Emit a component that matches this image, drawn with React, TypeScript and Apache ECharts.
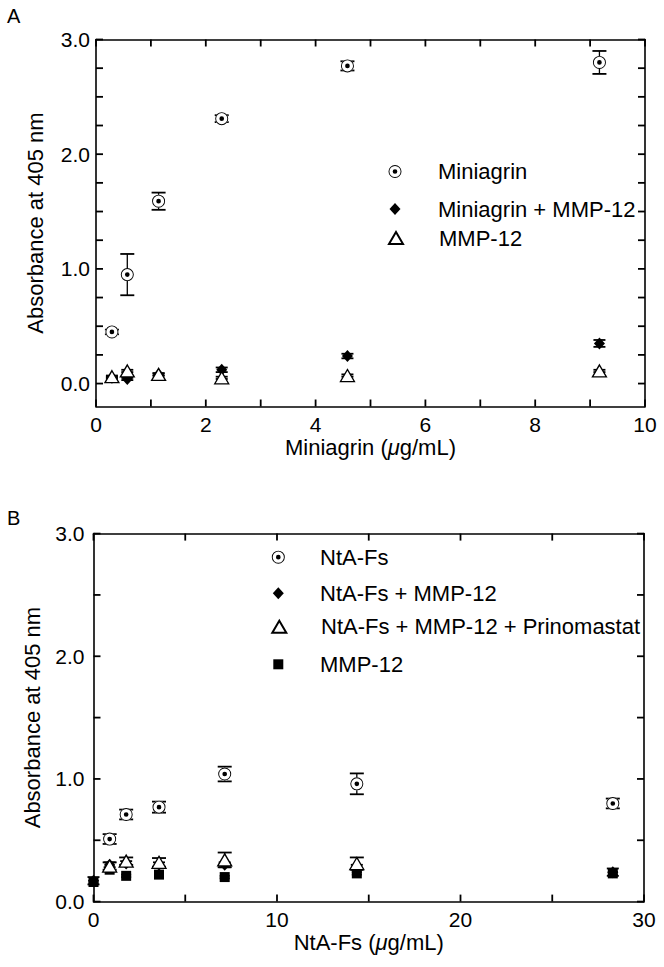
import React, { useEffect, useRef } from "react";
import * as echarts from "echarts";

// ---------- Panel A data ----------
const concA = [0.29, 0.57, 1.14, 2.29, 4.58, 9.17];
const miniagrin = [0.45, 0.95, 1.59, 2.31, 2.77, 2.8];
const miniagrinErr = [0.02, 0.18, 0.075, 0.03, 0.04, 0.1];
const miniagrinMmp = [0.05, 0.04, 0.08, 0.12, 0.24, 0.35];
const miniagrinMmpErr = [0.01, 0.01, 0.01, 0.02, 0.02, 0.03];
const mmpA = [0.06, 0.11, 0.08, 0.05, 0.07, 0.11];
const mmpAErr = [0.01, 0.01, 0.01, 0.01, 0.01, 0.01];

const xRangeA = [0, 10];
const yRangeA = [-0.2, 3];
const xTicksA = [0, 1, 2, 3, 4, 5, 6, 7, 8, 9, 10];
const xLabelsA = [0, 2, 4, 6, 8, 10];
const yTicksA = [0, 0.25, 0.5, 0.75, 1, 1.25, 1.5, 1.75, 2, 2.25, 2.5, 2.75, 3];
const yLabelsA = [0, 1, 2, 3];

// ---------- Panel B data ----------
const concB = [0, 0.88, 1.78, 3.57, 7.15, 14.35, 28.3];
const ntaFs = [null, 0.51, 0.71, 0.77, 1.04, 0.96, 0.8];
const ntaFsErr = [0, 0.04, 0.04, 0.045, 0.06, 0.085, 0.04];
const ntaFsMmp = [0.17, 0.3, 0.31, 0.3, 0.3, 0.28, 0.24];
const ntaFsMmpErr = [0.03, 0.02, 0.02, 0.02, 0.02, 0.02, 0.03];
const ntaFsPrino = [null, 0.29, 0.33, 0.32, 0.34, 0.31, null];
const ntaFsPrinoErr = [0, 0.03, 0.03, 0.035, 0.06, 0.05, 0];
const mmpB = [0.16, 0.26, 0.21, 0.22, 0.2, 0.23, 0.23];
const mmpBErr = [0.01, 0.01, 0.01, 0.01, 0.01, 0.01, 0.01];

const xRangeB = [0, 30];
const yRangeB = [0, 3];
const xTicksB = [0, 5, 10, 15, 20, 25, 30];
const xLabelsB = [0, 10, 20, 30];
const yTicksB = [0, 0.5, 1, 1.5, 2, 2.5, 3];
const yLabelsB = [0, 1, 2, 3];

const FONT = "Liberation Sans, Arial, Helvetica, sans-serif";
const RING =
  "path://M50,0A50,50,0,1,1,50,100A50,50,0,1,1,50,0ZM50,7A43,43,0,1,0,50,93A43,43,0,1,0,50,7ZM50,32A18,18,0,1,1,50,68A18,18,0,1,1,50,32Z";

function pairs(xs: number[], ys: (number | null)[]) {
  const out: number[][] = [];
  xs.forEach((x, i) => {
    if (ys[i] !== null && ys[i] !== undefined) out.push([x, ys[i] as number]);
  });
  return out;
}
function triples(xs: number[], ys: (number | null)[], es: number[]) {
  const out: number[][] = [];
  xs.forEach((x, i) => {
    if (ys[i] !== null && ys[i] !== undefined && es[i] > 0) out.push([x, ys[i] as number, es[i]]);
  });
  return out;
}

function errSeries(data: number[][], axis: number, cap: number) {
  return {
    type: "custom",
    xAxisIndex: axis,
    yAxisIndex: axis,
    silent: true,
    z: 2,
    data,
    renderItem: (_p: any, api: any) => {
      const x = api.value(0);
      const y = api.value(1);
      const e = api.value(2);
      const a = api.coord([x, y + e]);
      const b = api.coord([x, y - e]);
      const h = cap / 2;
      const st = { stroke: "#000", lineWidth: 1.3 };
      const cs = { stroke: "#000", lineWidth: 1.8 };
      return {
        type: "group",
        children: [
          { type: "line", shape: { x1: a[0], y1: a[1], x2: b[0], y2: b[1] }, style: st },
          { type: "line", shape: { x1: a[0] - h, y1: a[1], x2: a[0] + h, y2: a[1] }, style: cs },
          { type: "line", shape: { x1: b[0] - h, y1: b[1], x2: b[0] + h, y2: b[1] }, style: cs },
        ],
      };
    },
  };
}

// inward ticks on all four sides of a panel, drawn as one group through the axis scales
function tickSeries(axis: number, xTicks: number[], yTicks: number[], xr: number[], yr: number[]) {
  const L = 7;
  return {
    type: "custom",
    xAxisIndex: axis,
    yAxisIndex: axis,
    silent: true,
    clip: false,
    z: 10,
    data: [[(xr[0] + xr[1]) / 2, (yr[0] + yr[1]) / 2]],
    renderItem: (_params: any, api: any) => {
      const children: any[] = [];
      const st = { stroke: "#000", lineWidth: 1.8 };
      xTicks.forEach((v) => {
        const b = api.coord([v, yr[0]]);
        const t = api.coord([v, yr[1]]);
        children.push({ type: "line", shape: { x1: b[0], y1: b[1], x2: b[0], y2: b[1] - L }, style: st });
        children.push({ type: "line", shape: { x1: t[0], y1: t[1], x2: t[0], y2: t[1] + L }, style: st });
      });
      yTicks.forEach((v) => {
        const l = api.coord([xr[0], v]);
        const r = api.coord([xr[1], v]);
        children.push({ type: "line", shape: { x1: l[0], y1: l[1], x2: l[0] + L, y2: l[1] }, style: st });
        children.push({ type: "line", shape: { x1: r[0], y1: r[1], x2: r[0] - L, y2: r[1] }, style: st });
      });
      return { type: "group", children };
    },
  };
}

const LINE = { color: "#000", width: 1.6 };
const NAME_STYLE = {
  color: "#000",
  fontSize: 22,
  fontFamily: FONT,
  rich: { i: { fontStyle: "italic", fontSize: 22, fontFamily: FONT, color: "#000" } },
};
const LABEL = { color: "#000", fontSize: 21, fontFamily: FONT };

function axis(o: any) {
  const { grid, range, labels, name, pos, margin = 7, nameGap = 30, isY = false, fmt } = o;
  const showLabel = !!labels;
  return {
    type: "value",
    gridIndex: grid,
    position: pos,
    min: range[0],
    max: range[1],
    axisLine: { show: true, onZero: false, lineStyle: LINE },
    splitLine: { show: false },
    axisTick: { show: false },
    axisLabel: showLabel
      ? { show: true, customValues: labels, margin, ...LABEL, formatter: fmt }
      : { show: false },
    name: name || "",
    nameLocation: "middle",
    nameRotate: isY ? 90 : 0,
    nameGap,
    nameTextStyle: NAME_STYLE,
  };
}

function legendItem(name: string, cx: number, cy: number, w: number, h: number, textX: number) {
  return {
    show: true,
    orient: "horizontal",
    left: cx - w / 2,
    top: cy - h / 2,
    padding: 0,
    itemWidth: w,
    itemHeight: h,
    selectedMode: false,
    data: [name],
    textStyle: {
      color: "#000",
      fontSize: 22,
      fontFamily: FONT,
      padding: [0, 0, 0, textX - (cx + w / 2 + 5)],
    },
  };
}

function scatter(name: string, data: number[][], ax: number, symbol: string, size: any, z: number, style: any) {
  return {
    type: "scatter",
    name,
    xAxisIndex: ax,
    yAxisIndex: ax,
    data,
    symbol,
    symbolSize: size,
    z,
    itemStyle: { opacity: 1, ...style },
    emphasis: { disabled: true },
  };
}

export default function App() {
  const ref = useRef<HTMLDivElement>(null);
  useEffect(() => {
    if (!ref.current) return;
    const chart = echarts.init(ref.current, null as any, { renderer: "svg" });
    const black = { color: "#000" };
    const tri = { color: "#fff", borderColor: "#000", borderWidth: 1.3 };
    const fx = (v: number) => String(v);
    const fy = (v: number) => v.toFixed(1);
    const option: any = {
      animation: false,
      backgroundColor: "#fff",
      textStyle: { fontFamily: FONT },
      grid: [
        { left: 96, top: 39.5, width: 549, height: 367 },
        { left: 93.5, top: 533.6, width: 550.5, height: 368 },
      ],
      xAxis: [
        axis({ grid: 0, range: xRangeA, labels: xLabelsA, name: "Miniagrin ({i|μ}g/mL)", pos: "bottom", fmt: fx }),
        axis({ grid: 0, range: xRangeA, pos: "top" }),
        axis({ grid: 1, range: xRangeB, labels: xLabelsB, name: "NtA-Fs ({i|μ}g/mL)", pos: "bottom", fmt: fx }),
        axis({ grid: 1, range: xRangeB, pos: "top" }),
      ],
      yAxis: [
        axis({ grid: 0, range: yRangeA, labels: yLabelsA, name: "Absorbance at 405 nm", pos: "left", margin: 6, nameGap: 50, isY: true, fmt: fy }),
        axis({ grid: 0, range: yRangeA, pos: "right", isY: true }),
        axis({ grid: 1, range: yRangeB, labels: yLabelsB, name: "Absorbance at 405 nm", pos: "left", margin: 9, nameGap: 50, isY: true, fmt: fy }),
        axis({ grid: 1, range: yRangeB, pos: "right", isY: true }),
      ],
      legend: [
        legendItem("Miniagrin", 395, 167, 13, 13, 438),
        legendItem("Miniagrin + MMP-12", 395, 204, 11, 12, 438),
        legendItem("MMP-12", 395, 233, 14, 12, 438),
        legendItem("NtA-Fs", 278.3, 552.7, 13, 13, 320),
        legendItem("NtA-Fs + MMP-12", 278.3, 588.3, 11, 12, 320),
        legendItem("NtA-Fs + MMP-12 + Prinomastat", 278.3, 621.7, 14, 12, 320),
        legendItem("MMP-12 ", 278.3, 658.3, 10, 10, 320),
      ],
      graphic: [
        { type: "text", left: 7, top: 6, style: { text: "A", fontSize: 20, fontFamily: FONT, fill: "#000" } },
        { type: "text", left: 7, top: 508, style: { text: "B", fontSize: 20, fontFamily: FONT, fill: "#000" } },
      ],
      series: [
        // Panel A
        tickSeries(0, xTicksA, yTicksA, xRangeA, yRangeA),
        errSeries(triples(concA, miniagrin, miniagrinErr), 0, 14),
        errSeries(triples(concA, miniagrinMmp, miniagrinMmpErr), 0, 12),
        errSeries(triples(concA, mmpA, mmpAErr), 0, 12),
        scatter("Miniagrin + MMP-12", pairs(concA, miniagrinMmp), 0, "diamond", [11, 12], 3, black),
        scatter("", pairs(concA, miniagrin), 0, "circle", 13, 4, { color: "#fff" }),
        scatter("Miniagrin", pairs(concA, miniagrin), 0, RING, 13, 5, { color: "#000" }),
        scatter("MMP-12", pairs(concA, mmpA), 0, "triangle", [14, 12], 6, tri),
        // Panel B
        errSeries(triples(concB, ntaFs, ntaFsErr), 2, 14),
        errSeries(triples(concB, ntaFsMmp, ntaFsMmpErr), 2, 12),
        errSeries(triples(concB, ntaFsPrino, ntaFsPrinoErr), 2, 14),
        errSeries(triples(concB, mmpB, mmpBErr), 2, 10),
        scatter("NtA-Fs + MMP-12", pairs(concB, ntaFsMmp), 2, "diamond", [11, 12], 3, black),
        scatter("MMP-12 ", pairs(concB, mmpB), 2, "rect", [10, 10], 3, black),
        scatter("", pairs(concB, ntaFs), 2, "circle", 13, 4, { color: "#fff" }),
        scatter("NtA-Fs", pairs(concB, ntaFs), 2, RING, 13, 5, { color: "#000" }),
        scatter("NtA-Fs + MMP-12 + Prinomastat", pairs(concB, ntaFsPrino), 2, "triangle", [14, 12], 6, tri),
        tickSeries(2, xTicksB, yTicksB, xRangeB, yRangeB),
      ],
    };
    chart.setOption(option);
    return () => chart.dispose();
  }, []);
  return (
    <div
      ref={ref}
      style={{ position: "absolute", left: 0, top: 0, width: 664, height: 967, background: "#fff" }}
    />
  );
}
